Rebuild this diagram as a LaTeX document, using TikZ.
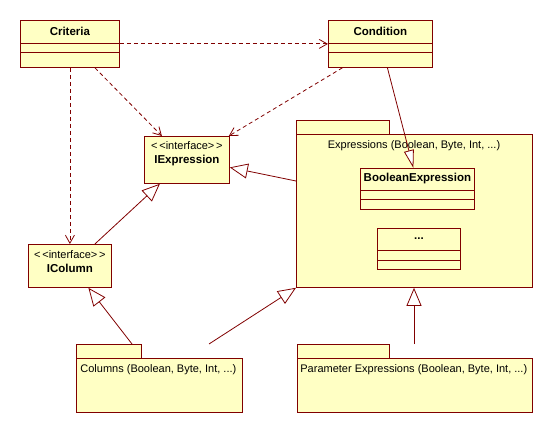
\documentclass[tikz,border=0pt]{standalone}
\usepackage{fontspec}
\setmainfont{Liberation Sans}
\usepackage{tikz}
\usetikzlibrary{arrows.meta,calc}
\definecolor{umlfill}{HTML}{FFFFC4}
\definecolor{umlline}{HTML}{800000}
\newcommand{\stereo}[1]{{<}\,{<}#1{>}\,{>}}

\begin{document}
\begin{tikzpicture}[x=1pt,y=-1pt,line width=0.8pt,
  every node/.style={font=\fontsize{11}{13}\selectfont},
  box/.style={draw=umlline,fill=umlfill,inner sep=0pt,anchor=north west},
  title/.style={font=\fontsize{11.5}{13}\selectfont\bfseries},
  dep/.style={draw=umlline,dash pattern=on 4pt off 3pt,-{Straight Barb[length=8pt,width=9pt]}},
  gen/.style={draw=umlline,-{Triangle[open,fill=white,length=18pt,width=15pt]}},
  assoc/.style={draw=umlline,-{Triangle[open,fill=white,length=18pt,width=10pt]}}]
  \useasboundingbox (0,0) rectangle (553,433);

  % classes on top
  \node[box,minimum width=99pt,minimum height=47pt] (criteria) at (20,20) {};
  \node[title] (criteria-name) at ($(criteria.north)+(0,11.5)$) {Criteria};
  \draw[umlline] ($(criteria.north west)+(0,23)$) -- ($(criteria.north east)+(0,23)$);
  \draw[umlline] ($(criteria.north west)+(0,32)$) -- ($(criteria.north east)+(0,32)$);

  \node[box,minimum width=104pt,minimum height=47pt] (condition) at (328,20) {};
  \node[title] (condition-name) at ($(condition.north)+(0,11.5)$) {Condition};
  \draw[umlline] ($(condition.north west)+(0,23)$) -- ($(condition.north east)+(0,23)$);
  \draw[umlline] ($(condition.north west)+(0,32)$) -- ($(condition.north east)+(0,32)$);

  % interfaces
  \node[box,minimum width=85pt,minimum height=47pt] (iexpr) at (144,136) {};
  \node[align=center,inner sep=0pt] (iexpr-name) at ($(iexpr.north)+(0,18)$)
    {\stereo{interface}\\[1pt]{\fontsize{11.5}{13}\selectfont\bfseries IExpression}};
  \node[box,minimum width=83pt,minimum height=43pt] (icolumn) at (28,244) {};
  \node[align=center,inner sep=0pt] (icolumn-name) at ($(icolumn.north)+(0,18)$)
    {\stereo{interface}\\[1pt]{\fontsize{11.5}{13}\selectfont\bfseries IColumn}};

  % package: expressions
  \node[box,minimum width=93pt,minimum height=14pt] (exprtab) at (296,120) {};
  \node[box,minimum width=236pt,minimum height=153pt] (expr) at (296,134) {};
  \node (expr-label) at (414,146) {Expressions (Boolean, Byte, Int, ...)};

  \node[box,minimum width=114pt,minimum height=41pt] (boolexpr) at (360,168) {};
  \node[title] (boolexpr-name) at ($(boolexpr.north)+(0,11)$) {BooleanExpression};
  \draw[umlline] ($(boolexpr.north west)+(0,22)$) -- ($(boolexpr.north east)+(0,22)$);
  \draw[umlline] ($(boolexpr.north west)+(0,31)$) -- ($(boolexpr.north east)+(0,31)$);

  \node[box,minimum width=83pt,minimum height=41pt] (other) at (377,228) {};
  \node[title] (other-name) at ($(other.north)+(0,11)$) {...};
  \draw[umlline] ($(other.north west)+(0,22)$) -- ($(other.north east)+(0,22)$);
  \draw[umlline] ($(other.north west)+(0,32)$) -- ($(other.north east)+(0,32)$);

  % packages at the bottom
  \node[box,minimum width=65pt,minimum height=14pt] (coltab) at (76,344) {};
  \node[box,minimum width=166pt,minimum height=54pt] (columns) at (76,358) {};
  \node[anchor=west,inner sep=0pt] (columns-label) at (80,370) {Columns (Boolean, Byte, Int, ...)};

  \node[box,minimum width=92pt,minimum height=14pt] (partab) at (297,344) {};
  \node[box,minimum width=235pt,minimum height=54pt] (params) at (297,358) {};
  \node[anchor=west,inner sep=0pt] (params-label) at (300,370) {Parameter Expressions (Boolean, Byte, Int, ...)};

  % dependencies
  \draw[dep] (criteria.east) -- (condition.west);
  \draw[dep] ([xshift=25pt]criteria.south) -- ([xshift=-25pt]iexpr.north);
  \draw[dep] ([xshift=-38pt]condition.south) -- ([xshift=-1pt]iexpr.north east);
  \draw[dep] (criteria.south) -- (icolumn.north);

  % generalizations
  \draw[gen] ([xshift=25pt]icolumn.north) -- ([xshift=-27pt]iexpr.south);
  \draw[gen] ([yshift=-47pt]expr.north west) -- ([yshift=-7.5pt]iexpr.east);
  \draw[gen] ([xshift=56pt]coltab.north west) -- ([xshift=18.5pt]icolumn.south);
  \draw[gen] ([xshift=133pt]coltab.north west) -- (expr.south west);
  \draw[gen] ([xshift=117pt]partab.north west) -- ([xshift=118pt]expr.south west);

  % association
  \draw[assoc] ([xshift=7pt]condition.south) -- ([xshift=-4pt]boolexpr.north);
\end{tikzpicture}
\end{document}
